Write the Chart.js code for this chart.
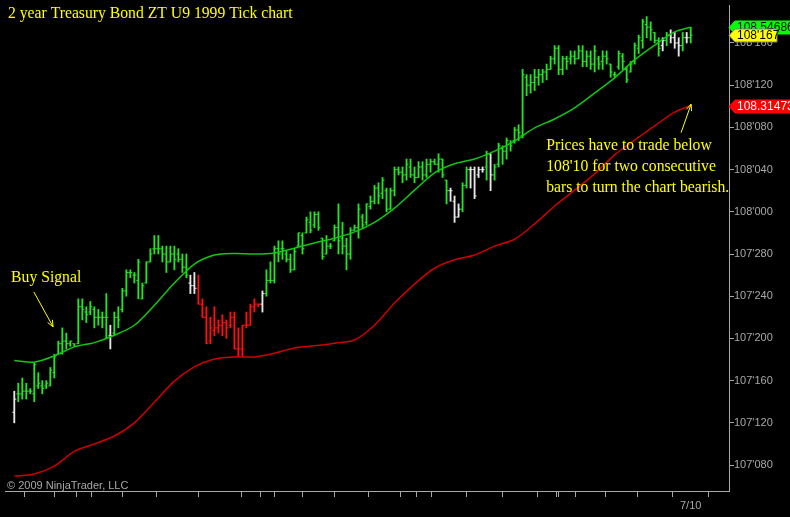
<!DOCTYPE html>
<html>
<head>
<meta charset="utf-8">
<title>2 year Treasury Bond ZT U9 1999 Tick chart</title>
<script src="https://cdn.jsdelivr.net/npm/chart.js@4.4.0/dist/chart.umd.min.js"></script>
<style>
  html, body { margin: 0; padding: 0; background: #000; }
  canvas { display: block; }
</style>
</head>
<body>
<canvas id="chart" width="790" height="517"></canvas>
<script>
// all prices are in 32nds above 107 (e.g. 16.5 means 107'165)
var highs = [
  15, 15.75, 16.25, 15.75, 15.25, 17.75, 16.75, 16, 16, 17.25,
  18.5, 19.75, 21, 20.5, 19.75, 19.5, 23.75, 23.75, 23, 23.5,
  23, 22.75, 22.5, 24.25, 21.25, 22.5, 23, 24.75, 26.5, 26.5,
  26.25, 27.5, 25.25, 27.25, 28.5, 29.75, 29.75, 28.75, 28.75, 28.75,
  28.75, 28.5, 28, 28, 26, 26.25, 26, 23.75, 23, 22,
  23, 21.75, 22.25, 21.75, 22.5, 22.5, 21, 21.25, 22.5, 23.25,
  23.75, 23.25, 24.5, 26.5, 27.25, 28.75, 29.25, 29.25, 28.25, 28,
  28.5, 30, 30, 31.5, 32, 32, 32, 29.5, 29.75, 29,
  30.75, 32.75, 31, 29.5, 30.5, 30.75, 32.75, 31.75, 32.75, 33.5,
  34.5, 34.75, 35.25, 34.25, 34.25, 36.25, 36.25, 36.25, 37, 37,
  36.25, 36.75, 36.75, 37, 37, 37, 37.5, 37, 35, 34.25,
  33.5, 32.75, 34.75, 36.25, 36.25, 36.25, 36.25, 36.25, 37.75, 37.5,
  36.5, 38.5, 38.25, 39, 38.75, 40, 40.25, 45.5, 45, 45,
  45.5, 45.5, 45.5, 46, 46.75, 47.75, 47.75, 46.75, 46.75, 47.25,
  47.25, 47.75, 47.75, 47.25, 47.25, 47.75, 46.75, 47.25, 47.25, 46,
  45.25, 47.25, 47, 45.75, 46.25, 48, 48.75, 50.25, 50.5, 50,
  49, 48.5, 48.5, 49, 49.25, 49, 48.5, 49, 49, 49.5
];
var lows = [
  12, 14, 14.25, 14.25, 14.75, 14, 15.25, 14.75, 15.25, 15.5,
  16.25, 18.5, 18.5, 19, 19.25, 19.25, 19.5, 21.75, 21.5, 22.25,
  21, 21.25, 21, 20, 19, 20.25, 21, 22.5, 24, 25.75,
  25.25, 23.75, 23.75, 25.25, 27.25, 28, 28, 27.25, 26.25, 27.25,
  26.5, 27.25, 26.25, 25.75, 24.25, 24.25, 23.25, 22, 19.5, 19.5,
  20.25, 20.5, 20.25, 20, 21, 19, 18.25, 18.25, 21, 21.25,
  22.5, 23, 22.5, 24, 25.25, 25.25, 27.25, 27.5, 27.25, 26.25,
  26.5, 28.75, 28, 30, 30, 30.5, 30.25, 27.5, 28, 28.5,
  29.25, 28, 28, 26.5, 27.5, 30.25, 29.5, 30.5, 30.75, 32.25,
  32.75, 32.75, 33.25, 32, 32.25, 33.5, 35.5, 34.75, 35, 35.25,
  34.75, 35.25, 35, 35.25, 35.75, 36.5, 35.75, 35.25, 32.75, 33,
  31, 31.5, 32, 34.25, 34.25, 33.25, 35.25, 35.75, 35, 34,
  35, 36.25, 36.5, 37, 37.75, 38.5, 38.75, 39, 43, 43.25,
  43.5, 44, 44.25, 44.5, 45.5, 46, 45, 45, 45.5, 46,
  46, 46.5, 45.75, 45.75, 45.5, 45.25, 45.5, 45.5, 46, 44.75,
  44.75, 45.5, 45.5, 44.25, 45.25, 46, 47, 47.5, 48.5, 48.25,
  48, 46.75, 47.25, 47.75, 48, 47.5, 46.75, 47.25, 48, 48
];
var opens = [
  13, 14.75, 14.75, 15, 15, 14.75, 15.5, 15.5, 15.5, 15.5,
  16.75, 18.5, 19.5, 19.75, 19.5, 19.5, 19.5, 23, 22.5, 22.5,
  22.75, 22, 22, 22, 20.25, 20.5, 22, 22.75, 24.5, 26.25,
  26, 25.5, 23.75, 25.25, 27.25, 28.5, 28.5, 28.5, 28, 27.25,
  28, 28, 27.5, 26.75, 25.25, 25, 24.75, 23.25, 22, 19.75,
  20.75, 21, 21.25, 21.5, 21.25, 22, 19, 19, 21.25, 21.25,
  23, 23.25, 23.25, 24.25, 25.5, 25.5, 28.5, 28.5, 28, 27.5,
  26.5, 28.75, 29.75, 30, 31, 30.75, 31.75, 29.5, 28, 28.75,
  29.25, 30.5, 29.5, 28.75, 28, 30.25, 30.5, 31.5, 31, 32.5,
  33, 34.25, 33.75, 34, 32.25, 34, 36, 35.75, 35.5, 36.25,
  35.5, 35.25, 36.25, 35.5, 36.5, 36.75, 36.5, 37, 35, 34,
  33, 31.5, 32.25, 34.5, 36, 36, 35.5, 36, 36.25, 37.5,
  35.5, 36.5, 38, 37.75, 38.5, 38.75, 39.75, 39.25, 44.75, 44,
  44.25, 44.75, 45, 45.25, 45.5, 46.5, 47.5, 45.5, 46.5, 46.5,
  46.75, 46.5, 47.25, 46.25, 46.75, 46, 46.5, 46.25, 46.75, 46,
  45, 45.75, 46.75, 45.5, 45.25, 46.25, 47.5, 48.25, 49.75, 49.5,
  49, 48.25, 47.75, 48.25, 48.75, 48.5, 48, 47.75, 48.5, 48.5
];
var closes = [
  14.25, 14.75, 15, 15, 15, 17.5, 15.75, 15.25, 15.75, 17,
  18.25, 19.5, 19.75, 19.5, 19.75, 19.25, 23, 22.75, 22.25, 23,
  22, 22, 22, 22, 20.25, 22, 21.75, 24.5, 26.25, 26.25,
  26, 27.25, 25, 27.25, 28, 28.5, 28.5, 28, 27.25, 28,
  27.5, 27.5, 26.75, 26, 25, 24.75, 23.25, 22, 19.5, 21,
  21, 21.25, 21.5, 21, 22, 19, 19, 21.25, 21.25, 23,
  23.25, 23.25, 24.25, 25.5, 25.5, 28.5, 28, 28.5, 27.5, 26.5,
  28.25, 30, 28.5, 31.25, 30.25, 31.75, 30.5, 27.75, 28.75, 28.75,
  30.5, 29.25, 28.75, 28, 30.25, 30.5, 32.25, 30.75, 32.75, 33,
  34.25, 33.5, 35, 32.25, 34, 36, 35.75, 35.5, 36.5, 35.5,
  35.25, 36.25, 35.5, 36.5, 36.75, 36.5, 37, 35.5, 34, 34,
  31.5, 32.25, 34.5, 36, 36, 33.5, 36, 36, 37.5, 35.5,
  36.25, 38.25, 37.75, 38.75, 38.25, 39.75, 39.5, 45, 44, 44.25,
  44.75, 45, 45.25, 45.5, 46.5, 47.5, 45.5, 46.5, 46.25, 46.75,
  46.5, 47.25, 46.25, 46.75, 46, 47.25, 46, 46.75, 46.5, 45.25,
  45, 47, 46.25, 44.5, 46, 47.75, 48.5, 50, 49.5, 49.25,
  48.25, 47.5, 48.25, 48.75, 48.5, 48, 47.75, 48.5, 48.5, 48.75
];
// bar colour state: g = up, r = down, w = neutral
var barState = [
  'wggggggggg', 'gggggggggg', 'ggggwggggg', 'gggggggggg', 'ggggwwrrrr',
  'rrrrrrrrrr', 'rrwggggggg', 'gggggggggg', 'gggggggggg', 'gggggggggg',
  'gggggggggw', 'wwggwwwwgw', 'gggggggggg', 'gggggggggg', 'gggggggggg',
  'gggggggggg', 'ggwgwwwgwg'
].join('').split('');

// indicator lines, read every 5th bar
var lineBars = [0, 5, 10, 15, 20, 25, 30, 35, 40, 45, 50, 55, 60, 65, 70, 75, 80,
  85, 90, 95, 100, 105, 110, 115, 120, 125, 130, 135, 140, 145, 150, 155, 160, 165, 169];
var greenLine = [17.9, 17.75, 18.35, 19.2, 19.6, 20.3, 21.25, 23.15, 25.25, 27.05, 27.9,
  28.05, 28.0, 28.1, 28.55, 29.05, 29.5, 30.1, 31.0, 32.35, 34.05, 35.7, 36.55, 37.0,
  37.75, 38.7, 39.95, 40.8, 41.85, 43.25, 44.7, 46.4, 47.8, 49.05, 49.5];
var redLine = [6.95, 7.15, 7.9, 9.3, 10.0, 10.75, 12.0, 13.95, 15.95, 17.3, 18.05,
  18.25, 18.25, 18.6, 19.1, 19.3, 19.55, 19.85, 21.25, 23.35, 25.15, 26.65, 27.45, 27.9,
  28.75, 29.4, 30.85, 32.55, 34.05, 35.6, 37.4, 38.8, 40.15, 41.45, 42.07];

var greenLast = 108.546863;
var redLast = 108.314734;

var yTicks32 = [8, 12, 16, 20, 24, 28, 32, 36, 40, 44, 48];
var xTickBars = [0.1, 5, 15.2, 15.7, 23, 31.1, 40, 52.1, 61.2, 61.7, 68.1, 76, 84.1,
  93, 100.2, 100.7, 108, 118.1, 126, 135.2, 135.7, 136.4, 144.1, 151.1, 160.1, 169];
var xTickLabels = { 169: '7/10' };

var titleText = '2 year Treasury Bond ZT U9 1999 Tick chart';
var copyText = '\u00A9 2009 NinjaTrader, LLC';
var buyText = ['Buy Signal'];
var bearText = ['Prices have to trade below', "108'10 for two consecutive", 'bars to turn the chart bearish.'];
// note anchors as [bar, price in 32nds]
var buyAt = [-0.8, 25.35];
var bearAt = [132.9, 37.86];
var buyArrow = [4.9, 24.4, 9.7, 21.1];
var bearArrow = [166.6, 39.5, 169.1, 42.2];

var colorOf = { g: '#22e622', r: '#ff1010', w: '#e8e8e8' };
var barColors = barState.map(function (s) { return colorOf[s]; });

function p32(t) { return 107 + t / 32; }

function fmt32(v) {
  var whole = Math.floor(v + 1e-9);
  var t = (v - whole) * 32;
  var n = Math.floor(t + 1e-6);
  var q = Math.round((t - n) * 4);
  var d = ['0', '2', '5', '7'][q] || '0';
  return whole + "'" + (n < 10 ? '0' + n : n) + d;
}

var gray = '#a8a8a8';
var axisFont = { family: "'Liberation Sans', Arial, sans-serif", size: 11 };

var overlay = {
  id: 'overlay',
  afterDraw: function (chart) {
    var ctx = chart.ctx, xs = chart.scales.x, ys = chart.scales.y;
    var area = chart.chartArea;
    function px(b) { return xs.getPixelForValue(b); }
    function py(t) { return ys.getPixelForValue(p32(t)); }
    function arrow(a) {
      var x1 = px(a[0]), y1 = py(a[1]), x2 = px(a[2]), y2 = py(a[3]);
      var ang = Math.atan2(y2 - y1, x2 - x1);
      ctx.beginPath();
      ctx.moveTo(x1, y1);
      ctx.lineTo(x2, y2);
      ctx.moveTo(x2 - 7 * Math.cos(ang - 0.4), y2 - 7 * Math.sin(ang - 0.4));
      ctx.lineTo(x2, y2);
      ctx.lineTo(x2 - 7 * Math.cos(ang + 0.4), y2 - 7 * Math.sin(ang + 0.4));
      ctx.stroke();
    }
    function tag(price, text, fill, color, edge, right) {
      var cy = Math.round(ys.getPixelForValue(price)) + 0.5;
      var l = area.right;
      ctx.beginPath();
      ctx.moveTo(l, cy);
      ctx.lineTo(l + 6, cy - 6.5);
      ctx.lineTo(right, cy - 6.5);
      ctx.lineTo(right, cy + 6.5);
      ctx.lineTo(l + 6, cy + 6.5);
      ctx.closePath();
      ctx.fillStyle = fill;
      ctx.fill();
      ctx.strokeStyle = edge;
      ctx.lineWidth = 1;
      ctx.stroke();
      ctx.fillStyle = color;
      ctx.font = "12px 'Liberation Sans', Arial, sans-serif";
      ctx.textBaseline = 'middle';
      ctx.textAlign = 'left';
      ctx.fillText(text, l + 8, cy + 0.5);
    }

    ctx.save();
    ctx.fillStyle = '#ffff00';
    ctx.strokeStyle = '#ffff00';
    ctx.lineWidth = 1;
    ctx.textAlign = 'left';
    ctx.textBaseline = 'alphabetic';
    ctx.font = "15.7px 'Liberation Serif', 'Times New Roman', serif";
    ctx.fillText(titleText, 8, 18);
    buyText.forEach(function (s, i) { ctx.fillText(s, px(buyAt[0]), py(buyAt[1]) + i * 21); });
    bearText.forEach(function (s, i) { ctx.fillText(s, px(bearAt[0]), py(bearAt[1]) + i * 21); });
    arrow(buyArrow);
    arrow(bearArrow);

    ctx.fillStyle = gray;
    ctx.font = "11px 'Liberation Sans', Arial, sans-serif";
    ctx.fillText(copyText, 7, area.bottom - 2);

    tag(greenLast, greenLast.toFixed(6), '#00ff00', '#000', '#00ff00', 800);
    tag(redLast, redLast.toFixed(6), '#ff0000', '#fff', '#ff0000', 800);
    var last = p32(closes[closes.length - 1]);
    tag(last, fmt32(last), '#ffff00', '#000', '#808080', 777);
    ctx.restore();
  }
};

var ohlcBars = highs.map(function (h, i) { return { x: i, y: [p32(lows[i]), p32(h)] }; });
var openTicks = opens.map(function (o, i) { return { x: i, y: p32(o) }; });
var closeTicks = closes.map(function (c, i) { return { x: i, y: p32(c) }; });
var greenPts = lineBars.map(function (b, i) { return { x: b, y: p32(greenLine[i]) }; });
var redPts = lineBars.map(function (b, i) { return { x: b, y: p32(redLine[i]) }; });

var chart = new Chart('chart', {
  type: 'bar',
  data: {
    datasets: [
      {
        type: 'line', data: greenPts, borderColor: '#10c810', borderWidth: 1.5,
        pointRadius: 0, tension: 0.3, order: 1
      },
      {
        type: 'line', data: redPts, borderColor: '#d00000', borderWidth: 1.5,
        pointRadius: 0, tension: 0.3, order: 1
      },
      {
        type: 'line', data: openTicks, showLine: false, pointStyle: 'dash',
        pointRadius: 2, pointRotation: 180, pointBorderWidth: 1,
        pointBorderColor: barColors, pointBackgroundColor: barColors, order: 2
      },
      {
        type: 'line', data: closeTicks, showLine: false, pointStyle: 'dash',
        pointRadius: 2, pointRotation: 0, pointBorderWidth: 1,
        pointBorderColor: barColors, pointBackgroundColor: barColors, order: 2
      },
      {
        type: 'bar', data: ohlcBars, backgroundColor: barColors,
        barThickness: 1.2, borderWidth: 0, order: 3
      }
    ]
  },
  options: {
    responsive: false,
    animation: false,
    events: [],
    devicePixelRatio: 1,
    layout: { padding: { left: 5, top: 5, right: 0, bottom: 0 } },
    plugins: { legend: { display: false }, tooltip: { enabled: false } },
    scales: {
      x: {
        type: 'linear', min: -2.32, max: 178.57, offset: false,
        grid: { drawOnChartArea: false, drawTicks: true, tickLength: 6, color: gray },
        border: { display: true, color: gray, width: 1 },
        ticks: {
          color: gray, font: axisFont, padding: 2, autoSkip: false, maxRotation: 0,
          callback: function (v) { return xTickLabels[v] || ''; }
        },
        afterBuildTicks: function (s) { s.ticks = xTickBars.map(function (v) { return { value: v }; }); },
        afterFit: function (s) { s.height = 26; s.paddingLeft = 0; s.paddingRight = 0; }
      },
      y: {
        position: 'right', min: p32(5.54), max: p32(51.6),
        grid: { drawOnChartArea: false, drawTicks: true, tickLength: 5, color: gray },
        border: { display: true, color: gray, width: 1 },
        ticks: {
          color: gray, font: axisFont, padding: 0,
          callback: function (v) { return fmt32(v); }
        },
        afterBuildTicks: function (s) { s.ticks = yTicks32.map(function (t) { return { value: p32(t) }; }); },
        afterFit: function (s) { s.width = 61; s.paddingTop = 0; s.paddingBottom = 0; }
      }
    }
  },
  plugins: [overlay]
});
</script>
</body>
</html>
